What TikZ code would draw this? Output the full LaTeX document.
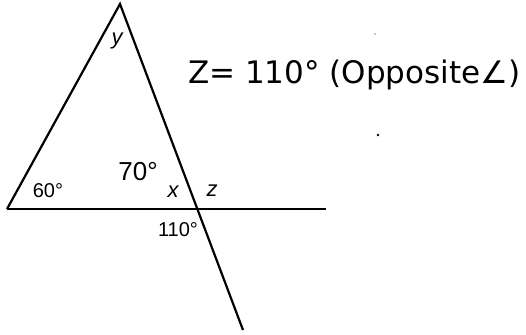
\documentclass[tikz,border=0pt]{standalone}
\usepackage{fontspec}
\setmainfont{Liberation Sans}
\newfontfamily\notefont{DejaVu Sans}
\usetikzlibrary{positioning}

\begin{document}
\begin{tikzpicture}[
  x=1pt, y=-1pt,
  edge/.style={line width=2.2pt, black},
  lbl/.style={font=\fontsize{20}{20}\selectfont, inner sep=0pt},
  var/.style={font=\fontsize{22}{22}\selectfont\itshape, inner sep=0pt},
  note/.style={font=\notefont\fontsize{31}{31}\selectfont, inner sep=0pt, anchor=west}
]
\useasboundingbox (0,0) rectangle (526,334);
\coordinate (top) at (120,4);
\coordinate (left) at (7,209);
\coordinate (cross) at (197,209);
\coordinate (right) at (326,209);
\coordinate (tail) at (243,330);
\draw[edge] (left) -- (top) -- (tail);
\draw[edge] (left) -- (right);
\node[var] (angy) at (117,41) {y};
\node[lbl] (ang60) at (48,191) {60°};
\node[lbl, font=\fontsize{26}{26}\selectfont] (ang70) at (138,172) {70°};
\node[var] (angx) at (173,192) {x};
\node[var] (angz) at (212,191) {z};
\node[lbl] (ang110) at (178,230) {110°};
\node[note] (zeq) at (188,75) {Z= 110° (Opposite∠)};
\fill (378,135) circle (1.3pt);
\fill (375,34) circle (0.6pt);
\end{tikzpicture}
\end{document}
